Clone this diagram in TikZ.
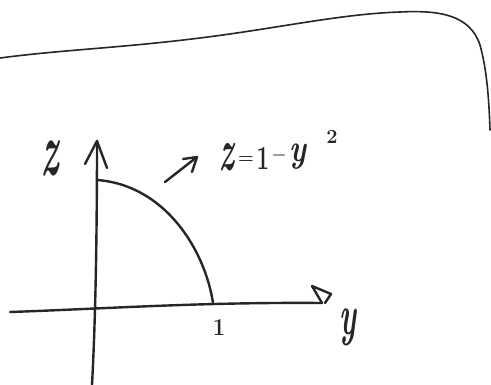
\documentclass[tikz,border=0pt]{standalone}
\usepackage{fontspec}
\usepackage{graphicx}
\begin{document}
\begin{tikzpicture}[x=1pt,y=-1pt,
  ink/.style={line width=2.4pt,line cap=round,line join=round,black!85},
  thin ink/.style={line width=1.6pt,line cap=round,line join=round,black!85},
  txt/.style={inner sep=0pt,black!85}]
\useasboundingbox[fill=white] (0,0) rectangle (491,385);
% paper edge
\draw[thin ink] (0,58) .. controls (60,50) and (120,48) .. (200,38)
  .. controls (280,28) and (340,14) .. (400,12)
  .. controls (440,10) and (470,15) .. (480,45)
  .. controls (487,70) and (489,100) .. (490,130);
% axes
\coordinate (zbot) at (92,385);
\coordinate (ztop) at (97,141);
\coordinate (yleft) at (10,312);
\coordinate (yright) at (322,303);
\draw[ink] (zbot) .. controls (95,330) and (97,250) .. (ztop);
\draw[ink] (85,164) -- (ztop) -- (107,168);
\draw[ink] (yleft) .. controls (100,309) and (200,302) .. (yright);
\draw[ink] (yright) -- (312,286) -- (331,294) -- (325,303);
% curve
\coordinate (c0) at (97,180);
\coordinate (c1) at (213,303);
\draw[ink] (c0) .. controls (165,185) and (205,250) .. (c1);
% axis labels
\node[txt,font=\fontsize{32}{36}\selectfont\bfseries\itshape] (zlab) at (50,158) {\scalebox{1.1}[2.4]{z}};
\node[txt,font=\fontsize{30}{34}\selectfont\bfseries\itshape] (ylab) at (348,327) {\scalebox{1}[1.9]{y}};
\node[txt,font=\fontsize{22}{26}\selectfont\bfseries] (one) at (219,328) {\scalebox{1}[1.1]{1}};
% arrow to equation
\coordinate (a0) at (165,182);
\coordinate (a1) at (197,157);
\draw[ink] (a0) -- (a1);
\draw[ink] (183,159) -- (a1) -- (192,172);
% equation
\node[txt,font=\fontsize{30}{34}\selectfont\bfseries\itshape] (ez) at (227,157) {\scalebox{1}[2]{z}};
\node[txt,font=\fontsize{18}{22}\selectfont\bfseries] (eeq) at (246,160) {=};
\node[txt,font=\fontsize{28}{32}\selectfont\bfseries] (e1) at (263,158) {\scalebox{0.8}[1.2]{1}};
\node[txt,font=\fontsize{16}{20}\selectfont\bfseries] (emin) at (279,157) {−};
\node[txt,font=\fontsize{30}{34}\selectfont\bfseries\itshape] (ey) at (298,157) {\scalebox{1}[1.3]{y}};
\node[txt,font=\fontsize{20}{24}\selectfont\bfseries] (sq) at (332,137) {2};
\end{tikzpicture}
\end{document}
